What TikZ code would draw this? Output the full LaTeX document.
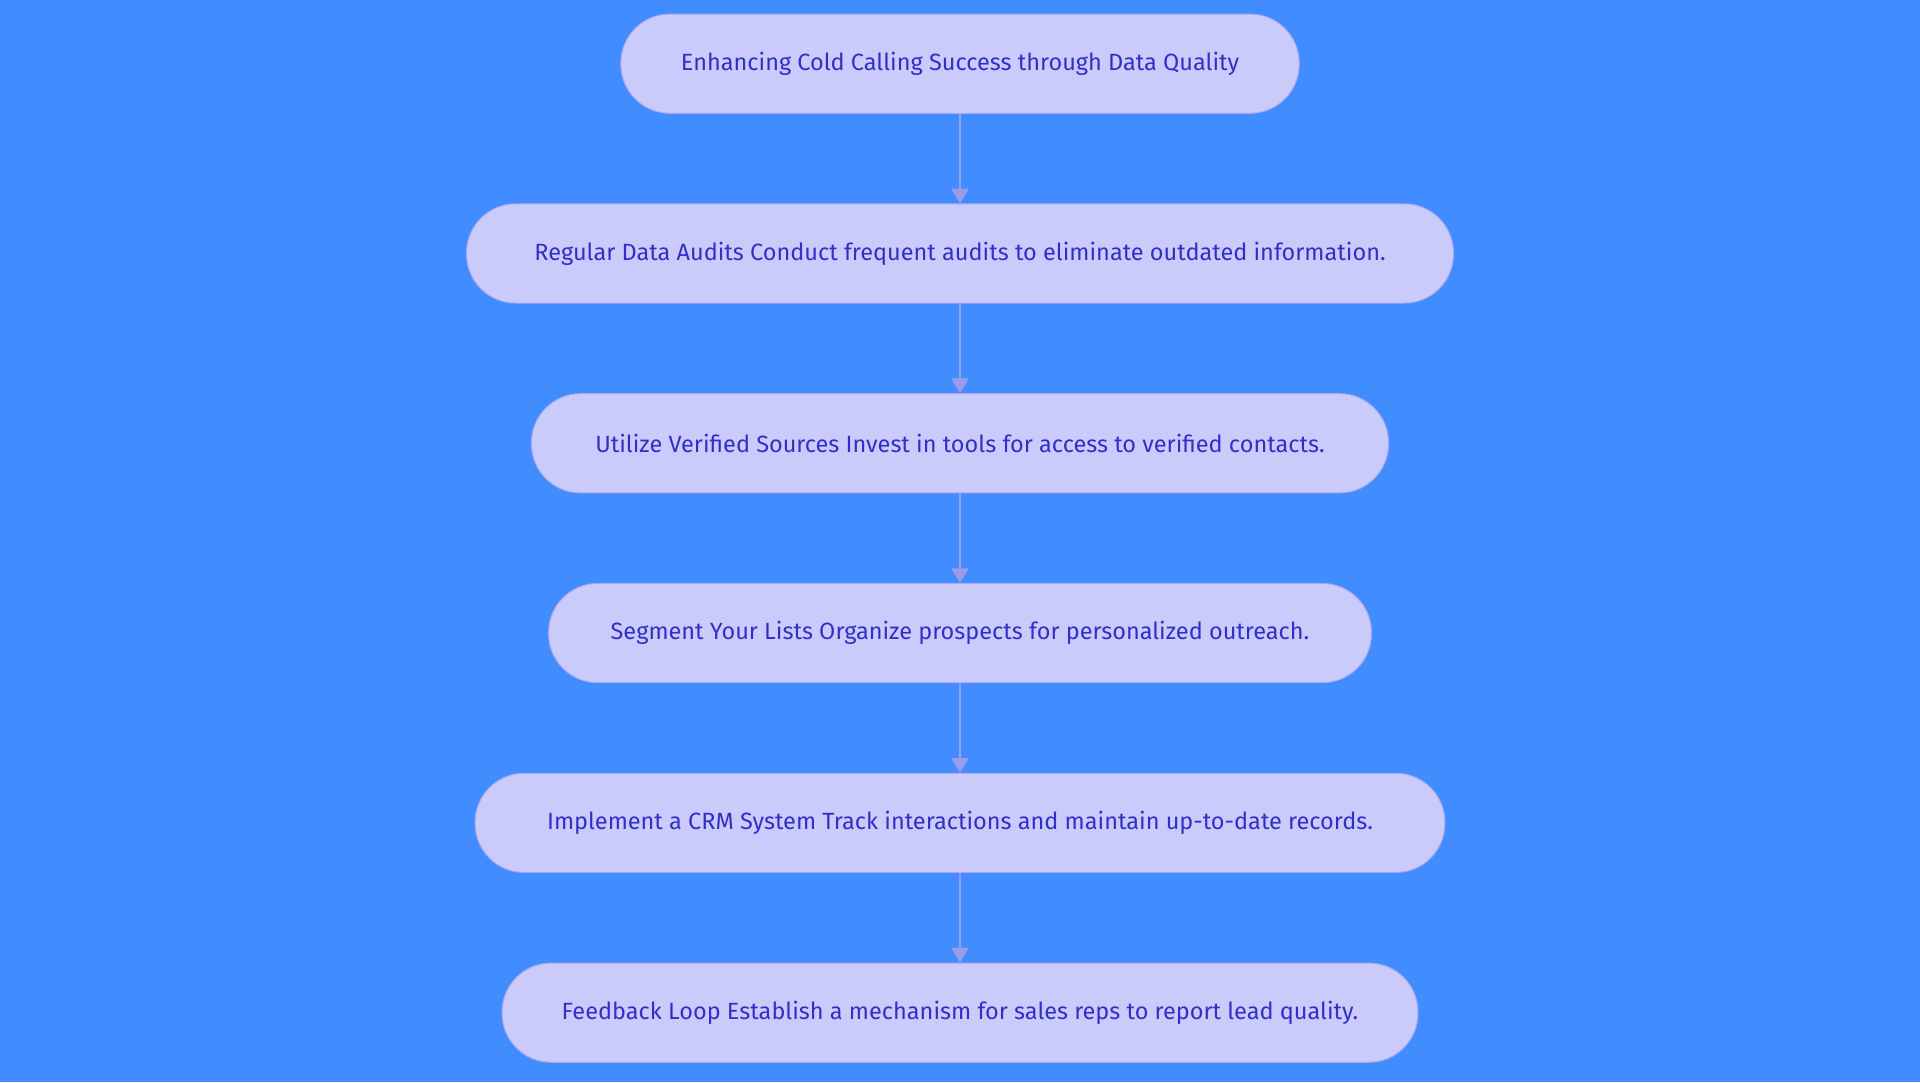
\documentclass[tikz,border=0pt]{standalone}
\usepackage{fontspec}
\setmainfont{Fira Sans}
\usetikzlibrary{arrows.meta}
\definecolor{bg}{HTML}{418CFF}
\definecolor{boxfill}{HTML}{CBCBFB}
\definecolor{boxline}{HTML}{A8A8F0}
\definecolor{txt}{HTML}{3030C8}
\definecolor{arr}{HTML}{9B9BE8}
\begin{document}
\begin{tikzpicture}[x=0.5pt,y=-0.5pt,
  box/.style={draw=boxline,fill=boxfill,rounded corners=20pt,minimum height=40.5pt,text=txt,font=\fontsize{9.6pt}{11pt}\selectfont,inner xsep=0pt},
  conn/.style={draw=arr,line width=1pt,-{Triangle[length=6pt,width=7pt]}}]
\fill[bg] (0,0) rectangle (1568,884);
\node[box,minimum width=277pt] (a) at (784,52) {Enhancing Cold Calling Success through Data Quality};
\node[box,minimum width=403pt] (b) at (784,207) {Regular Data Audits Conduct frequent audits to eliminate outdated information.};
\node[box,minimum width=350pt] (c) at (784,362) {Utilize Verified Sources Invest in tools for access to verified contacts.};
\node[box,minimum width=336pt] (d) at (784,517) {Segment Your Lists Organize prospects for personalized outreach.};
\node[box,minimum width=396pt] (e) at (784,672) {Implement a CRM System Track interactions and maintain up-to-date records.};
\node[box,minimum width=374pt] (f) at (784,827) {Feedback Loop Establish a mechanism for sales reps to report lead quality.};
\draw[conn] (a) -- (b);
\draw[conn] (b) -- (c);
\draw[conn] (c) -- (d);
\draw[conn] (d) -- (e);
\draw[conn] (e) -- (f);
\end{tikzpicture}
\end{document}
